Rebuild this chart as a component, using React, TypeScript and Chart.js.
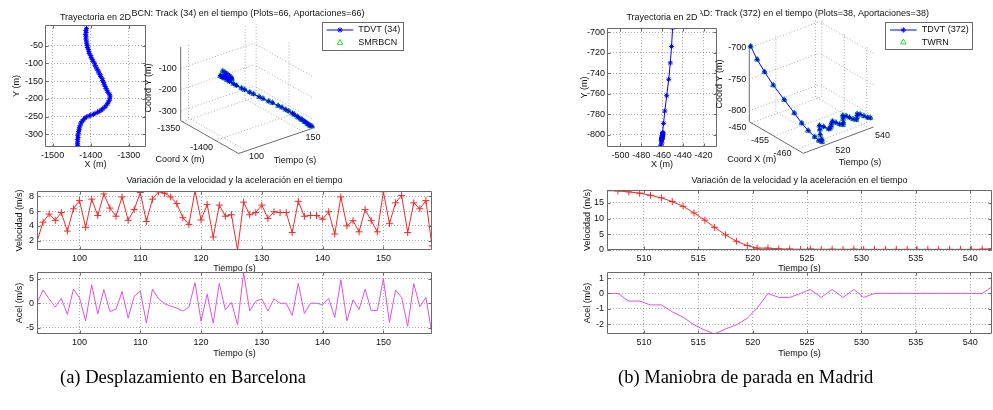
import React, { useEffect, useRef } from "react";
import { Chart, registerables } from "chart.js";

Chart.register(...registerables);

const FONT = '"Liberation Sans", Arial, Helvetica, sans-serif';
const FS = 9;
const TXT = "#111111";
const AXIS = "#6a6a6a";
const GRID = "rgba(0,0,0,0.33)";
const BLUE = "#0000ff";
const GREEN = "#22dd22";
const RED = "#f22a2a";
const MAGENTA = "#e050e0";

// ---------------- (a) Barcelona ----------------
const TIME_A = [93, 94, 95, 96, 97, 98, 99, 100, 101, 102, 103, 104, 105, 106, 107, 108, 109, 110, 111, 112, 113, 114, 115, 116, 117, 118, 119, 120, 121, 122, 123, 124, 125, 126, 127, 128, 129, 130, 131, 132, 133, 134, 135, 136, 137, 138, 139, 140, 141, 142, 143, 144, 145, 146, 147, 148, 149, 150, 151, 152, 153, 154, 155, 156, 157, 158];
const VEL_A = [1.9, 4.5, 5.6, 4.75, 5.8, 3.3, 6.3, 7.4, 3.8, 7.6, 5.4, 8.3, 6.4, 5.3, 7.9, 4.75, 6.2, 8.5, 4.6, 7.6, 8.6, 8.4, 7.9, 7.0, 5.1, 4.2, 8.7, 4.8, 6.9, 2.5, 6.8, 5.3, 5.5, 0.75, 7.2, 5.5, 5.8, 6.8, 5.0, 5.9, 5.8, 5.8, 3.1, 7.3, 5.3, 5.4, 5.4, 4.9, 5.9, 2.9, 7.9, 4.0, 4.7, 3.2, 6.2, 4.7, 3.2, 8.6, 4.3, 7.1, 8.1, 3.1, 7.1, 6.3, 7.4, 1.3];
const ACEL_A = [0, 2.7, 0.9, -0.8, 1.0, -2.3, 2.9, 1.1, -3.6, 3.8, -2.2, 2.8, -1.7, -1.2, 2.4, -3.0, 1.4, 2.5, -4.1, 2.9, 0.9, -0.1, -0.6, -1.0, -1.6, -0.8, 4.2, -3.7, 1.9, -4.1, 4.1, -1.4, 0.2, -4.4, 6.3, -1.6, 0.4, 0.9, -1.6, 0.9, 0, 0, -2.5, 4.1, -2.1, 0, 0, -0.3, 1.0, -2.9, 4.8, -3.6, 0.7, -1.3, 2.9, -1.5, -1.5, 5.0, -3.9, 2.7, 1.2, -4.7, 4.0, -0.7, 1.2, -6.3];
const POS_X_A = [-1411, -1413, -1412, -1414, -1412, -1413, -1411, -1411, -1409, -1409, -1406, -1405, -1404, -1400, -1399, -1396, -1394, -1390, -1389, -1386, -1384, -1380, -1379, -1375, -1374, -1370, -1369, -1366, -1365, -1362, -1360, -1357, -1355, -1351, -1349, -1350, -1351, -1354, -1356, -1360, -1363, -1369, -1372, -1378, -1382, -1389, -1393, -1400, -1404, -1411, -1415, -1419, -1422, -1426, -1427, -1430, -1430, -1432, -1432, -1434, -1433, -1435, -1434, -1435, -1434, -1435];
const POS_Y_A = [-1, -7, -13, -19, -25, -31, -37, -43, -49, -55, -60, -66, -72, -78, -83, -89, -94, -99, -105, -110, -116, -121, -127, -132, -137, -143, -148, -154, -160, -165, -171, -176, -182, -187, -192, -198, -204, -209, -214, -219, -224, -228, -232, -235, -238, -241, -244, -246, -248, -251, -254, -259, -263, -268, -274, -280, -286, -292, -297, -303, -309, -315, -321, -327, -331, -335];
const TRAJ_X_TICKS_A = [-1500, -1400, -1300];
const TRAJ_Y_TICKS_A = [-300, -250, -200, -150, -100, -50];
const TIME_TICKS_A = [100, 110, 120, 130, 140, 150];
const VEL_TICKS_A = [2, 4, 6, 8];
const ACEL_TICKS_A = [-5, 0, 5];
const T3D_TICKS_A = [100, 150];
const CX3D_TICKS_A = [-1400, -1350];
const CY3D_TICKS_A = [-300, -200, -100];
const LEGEND_A = ["TDVT (34)", "SMRBCN"];

// ---------------- (b) Madrid ----------------
const TIME_B = [506.6, 507.6, 508.6, 509.6, 510.6, 511.6, 512.6, 513.6, 514.6, 515.6, 516.5, 517.5, 518.5, 519.5, 520.4, 521.4, 522.4, 523.4, 524.4, 525.3, 526.3, 527.3, 528.3, 529.3, 530.2, 531.2, 532.2, 533.2, 534.2, 535.1, 536.1, 537.1, 538.1, 539.1, 540.1, 541.1, 542.0];
const VEL_B = [18.9, 18.8, 18.5, 18.1, 17.4, 16.6, 15.4, 13.9, 11.8, 9.5, 7.2, 4.8, 2.8, 1.4, 0.6, 0.6, 0.35, 0.3, 0.2, 0.3, 0.2, 0.25, 0.2, 0.25, 0.2, 0.2, 0.2, 0.2, 0.2, 0.2, 0.2, 0.2, 0.2, 0.2, 0.2, 0.25, 0.4];
const ACEL_B = [0, 0, -0.5, -0.5, -0.75, -0.75, -1.2, -1.55, -2.05, -2.4, -2.65, -2.32, -2.05, -1.62, -0.97, 0, -0.26, -0.26, 0, 0.26, -0.26, 0.26, -0.26, 0.26, -0.26, 0, 0, 0, 0, 0, 0, 0, 0, 0, 0, 0, 0.43];
const POS_X_B = [-449.8, -450.8, -452.0, -453.5, -455.5, -457.3, -458.5, -459.5, -460.5, -461.0, -461.3, -460.8, -460.0, -459.5, -459.0, -459.5, -460.2, -460.0, -459.8, -459.5, -459.3, -459.6, -460.0, -460.3, -460.0, -459.5, -459.0, -459.3, -459.6, -460.0, -460.3, -460.0, -459.6, -459.8, -460.2, -460.6, -460.8];
const POS_Y_B = [-696, -714, -730, -746, -762, -777, -789, -798, -805, -810, -812, -811, -808, -803, -800, -801, -803, -804, -803, -801, -799, -801, -803, -804, -803, -800, -798, -799, -801, -803, -804, -802, -800, -801, -803, -805, -806];
const TRAJ_X_TICKS_B = [-500, -480, -460, -440, -420];
const TRAJ_Y_TICKS_B = [-800, -780, -760, -740, -720, -700];
const TIME_TICKS_B = [510, 515, 520, 525, 530, 535, 540];
const VEL_TICKS_B = [0, 5, 10, 15];
const ACEL_TICKS_B = [-2, -1, 0, 1];
const T3D_TICKS_B = [520, 540];
const CX3D_TICKS_B = [-460, -455, -450];
const CY3D_TICKS_B = [-800, -750, -700];
const LEGEND_B = ["TDVT (372)", "TWRN"];

// ---------------- helpers ----------------
const boxPlugin = {
  id: "matlabBox",
  afterDatasetsDraw(chart: any) {
    const { ctx, chartArea: a, scales } = chart;
    const L = Math.round(a.left) + 0.5;
    const T = Math.round(a.top) + 0.5;
    const R = Math.round(a.right) - 0.5;
    const B = Math.round(a.bottom) - 0.5;
    const tl = 3;
    ctx.save();
    ctx.strokeStyle = AXIS;
    ctx.lineWidth = 1;
    ctx.setLineDash([]);
    ctx.beginPath();
    ctx.rect(L, T, R - L, B - T);
    for (const t of scales.x.ticks) {
      const px = Math.round(scales.x.getPixelForValue(t.value)) + 0.5;
      ctx.moveTo(px, B); ctx.lineTo(px, B - tl);
      ctx.moveTo(px, T); ctx.lineTo(px, T + tl);
    }
    for (const t of scales.y.ticks) {
      const py = Math.round(scales.y.getPixelForValue(t.value)) + 0.5;
      ctx.moveTo(L, py); ctx.lineTo(L + tl, py);
      ctx.moveTo(R, py); ctx.lineTo(R - tl, py);
    }
    ctx.stroke();
    ctx.restore();
  },
};

type Margins = { l: number; t: number; r: number; b: number };
interface PlotCfg {
  datasets: any[];
  xMin: number; xMax: number; xTicks: number[]; xTitle: string; xTitlePad: number;
  yMin: number; yMax: number; yTicks: number[]; yTitle: string; yTitlePad: number;
  m: Margins;
  yTickPad?: number;
  title?: { text: string; padTop: number };
}

function makePlot(canvas: HTMLCanvasElement, c: PlotCfg) {
  const font = { family: FONT, size: FS, lineHeight: 1.2 };
  return new Chart(canvas, {
    type: "scatter",
    data: { datasets: c.datasets },
    options: {
      responsive: false,
      animation: false,
      events: [],
      layout: { autoPadding: false, padding: { left: 0, top: c.title ? 0 : c.m.t, right: c.m.r, bottom: 0 } },
      plugins: {
        legend: { display: false },
        tooltip: { enabled: false },
        title: c.title
          ? {
              display: true, text: c.title.text, fullSize: false, color: TXT,
              font: { ...font, weight: "normal" },
              padding: { top: c.title.padTop, bottom: c.m.t - 10.8 - c.title.padTop },
            }
          : { display: false },
      },
      scales: {
        x: {
          type: "linear", position: "bottom", min: c.xMin, max: c.xMax,
          afterBuildTicks: (s: any) => { s.ticks = c.xTicks.map((v) => ({ value: v })); },
          afterFit: (s: any) => { s.height = c.m.b; },
          grid: { color: GRID, lineWidth: 1, drawTicks: false },
          border: { display: false, dash: [1, 2] },
          ticks: { color: TXT, font, padding: 3, maxRotation: 0, autoSkip: false, callback: (v: any) => String(v) },
          title: { display: true, text: c.xTitle, color: TXT, font, padding: { top: 0, bottom: c.xTitlePad } },
        },
        y: {
          type: "linear", position: "left", min: c.yMin, max: c.yMax,
          afterBuildTicks: (s: any) => { s.ticks = c.yTicks.map((v) => ({ value: v })); },
          afterFit: (s: any) => { s.width = c.m.l; },
          grid: { color: GRID, lineWidth: 1, drawTicks: false },
          border: { display: false, dash: [1, 2] },
          ticks: { color: TXT, font, padding: c.yTickPad ?? 3, autoSkip: false, callback: (v: any) => String(v) },
          title: { display: true, text: c.yTitle, color: TXT, font, padding: { top: c.yTitlePad, bottom: 0 } },
        },
      },
    } as any,
    plugins: [boxPlugin],
  });
}

function trajSet(xs: number[], ys: number[]) {
  return {
    data: xs.map((x, i) => ({ x, y: ys[i] })),
    showLine: true, borderColor: BLUE, borderWidth: 1, backgroundColor: "transparent",
    pointStyle: "star", pointRadius: 2.5, pointBorderColor: BLUE, pointBorderWidth: 1,
  };
}
function velSet(ts: number[], vs: number[]) {
  return {
    data: ts.map((x, i) => ({ x, y: vs[i] })),
    showLine: true, borderColor: RED, borderWidth: 1, backgroundColor: "transparent",
    pointStyle: "cross", pointRadius: 3.5, pointBorderColor: RED, pointBorderWidth: 1,
  };
}
function acelSet(ts: number[], as: number[]) {
  return {
    data: ts.map((x, i) => ({ x, y: as[i] })),
    showLine: true, borderColor: MAGENTA, borderWidth: 1, backgroundColor: "transparent", pointRadius: 0,
  };
}

// ---------------- 3D ----------------
interface Cfg3D {
  ox: number; oy: number;
  F: number[]; L: number[]; R: number[]; H: number;
  tMin: number; tMax: number; xMin: number; xMax: number; zMin: number; zMax: number;
  tTicks: number[]; xTicks: number[]; zTicks: number[];
  title: string; titlePos: number[];
  tLabelOff: number[]; xLabelOff: number[]; zLabelGap: number;
  xTitle: [string, number, number]; tTitle: [string, number, number]; zTitle: [string, number, number];
  legend: { box: number[]; lineX: number[]; textX: number; rows: number[]; labels: string[] };
}

function project(c: Cfg3D, t: number, x: number, z: number) {
  const tn = (t - c.tMin) / (c.tMax - c.tMin);
  const xn = (x - c.xMin) / (c.xMax - c.xMin);
  const zn = (z - c.zMin) / (c.zMax - c.zMin);
  return {
    x: c.F[0] + tn * (c.R[0] - c.F[0]) + xn * (c.L[0] - c.F[0]) - c.ox,
    y: c.F[1] + tn * (c.R[1] - c.F[1]) + xn * (c.L[1] - c.F[1]) - zn * c.H - c.oy,
  };
}

function drawStar(ctx: CanvasRenderingContext2D, x: number, y: number, r: number) {
  for (let k = 0; k < 4; k++) {
    const a = (k * Math.PI) / 4;
    ctx.moveTo(x - r * Math.cos(a), y - r * Math.sin(a));
    ctx.lineTo(x + r * Math.cos(a), y + r * Math.sin(a));
  }
}
function drawTri(ctx: CanvasRenderingContext2D, x: number, y: number, r: number) {
  ctx.moveTo(x, y - r);
  ctx.lineTo(x + r * 0.866, y + r * 0.5);
  ctx.lineTo(x - r * 0.866, y + r * 0.5);
  ctx.closePath();
}

function plugin3D(c: Cfg3D) {
  return {
    id: "box3d",
    beforeDatasetsDraw(chart: any) {
      const { ctx, scales } = chart;
      const P = (p: number[]) => {
        const q = project(c, p[0], p[1], p[2]);
        return { x: scales.x.getPixelForValue(q.x), y: scales.y.getPixelForValue(q.y) };
      };
      const seg = (a: number[], b: number[]) => {
        const p = P(a), q = P(b);
        ctx.moveTo(p.x, p.y); ctx.lineTo(q.x, q.y);
      };
      ctx.save();
      ctx.lineWidth = 1;
      ctx.strokeStyle = GRID;
      ctx.setLineDash([1, 2]);
      ctx.beginPath();
      for (const t of c.tTicks) {
        seg([t, c.xMax, c.zMin], [t, c.xMax, c.zMax]);
        seg([t, c.xMin, c.zMin], [t, c.xMax, c.zMin]);
      }
      for (const x of c.xTicks) {
        seg([c.tMax, x, c.zMin], [c.tMax, x, c.zMax]);
        seg([c.tMin, x, c.zMin], [c.tMax, x, c.zMin]);
      }
      for (const z of c.zTicks) {
        seg([c.tMin, c.xMax, z], [c.tMax, c.xMax, z]);
        seg([c.tMax, c.xMin, z], [c.tMax, c.xMax, z]);
      }
      ctx.stroke();
      ctx.setLineDash([]);
      ctx.strokeStyle = AXIS;
      ctx.beginPath();
      seg([c.tMin, c.xMax, c.zMin], [c.tMin, c.xMax, c.zMax]);
      seg([c.tMin, c.xMin, c.zMin], [c.tMin, c.xMax, c.zMin]);
      seg([c.tMin, c.xMin, c.zMin], [c.tMax, c.xMin, c.zMin]);
      ctx.stroke();

      ctx.fillStyle = TXT;
      ctx.font = `${FS}px ${FONT}`;
      ctx.textBaseline = "middle";
      ctx.textAlign = "right";
      for (const z of c.zTicks) {
        const p = P([c.tMin, c.xMax, z]);
        ctx.fillText(String(z), p.x - c.zLabelGap, p.y);
      }
      ctx.textAlign = "center";
      for (const x of c.xTicks) {
        const p = P([c.tMin, x, c.zMin]);
        ctx.fillText(String(x), p.x + c.xLabelOff[0], p.y + c.xLabelOff[1]);
      }
      for (const t of c.tTicks) {
        const p = P([t, c.xMin, c.zMin]);
        ctx.fillText(String(t), p.x + c.tLabelOff[0], p.y + c.tLabelOff[1]);
      }
      ctx.fillText(c.title, c.titlePos[0] - c.ox, c.titlePos[1] - c.oy);
      ctx.fillText(c.xTitle[0], c.xTitle[1] - c.ox, c.xTitle[2] - c.oy);
      ctx.fillText(c.tTitle[0], c.tTitle[1] - c.ox, c.tTitle[2] - c.oy);
      ctx.save();
      ctx.translate(c.zTitle[1] - c.ox, c.zTitle[2] - c.oy);
      ctx.rotate(-Math.PI / 2);
      ctx.fillText(c.zTitle[0], 0, 0);
      ctx.restore();
      ctx.restore();
    },
    afterDatasetsDraw(chart: any) {
      const { ctx } = chart;
      const g = c.legend;
      const ox = c.ox, oy = c.oy;
      ctx.save();
      ctx.fillStyle = "#ffffff";
      ctx.strokeStyle = AXIS;
      ctx.lineWidth = 1;
      const bx = Math.round(g.box[0] - ox) + 0.5, by = Math.round(g.box[1] - oy) + 0.5;
      const bw = Math.round(g.box[2] - g.box[0]), bh = Math.round(g.box[3] - g.box[1]);
      ctx.fillRect(bx, by, bw, bh);
      ctx.strokeRect(bx, by, bw, bh);
      const y1 = g.rows[0] - oy, y2 = g.rows[1] - oy;
      const mx = (g.lineX[0] + g.lineX[1]) / 2 - ox;
      ctx.strokeStyle = BLUE;
      ctx.beginPath();
      ctx.moveTo(g.lineX[0] - ox, y1); ctx.lineTo(g.lineX[1] - ox, y1);
      drawStar(ctx, mx, y1, 2.6);
      ctx.stroke();
      ctx.strokeStyle = GREEN;
      ctx.beginPath();
      drawTri(ctx, mx, y2, 3.2);
      ctx.stroke();
      ctx.fillStyle = TXT;
      ctx.font = `${FS}px ${FONT}`;
      ctx.textBaseline = "middle";
      ctx.textAlign = "left";
      ctx.fillText(g.labels[0], g.textX - ox, y1);
      ctx.fillText(g.labels[1], g.textX - ox, y2);
      ctx.restore();
    },
  };
}

function make3D(canvas: HTMLCanvasElement, c: Cfg3D, ts: number[], xs: number[], zs: number[]) {
  const pts = ts.map((t, i) => project(c, t, xs[i], zs[i]));
  return new Chart(canvas, {
    type: "scatter",
    data: {
      datasets: [
        {
          data: pts, showLine: true, borderColor: BLUE, borderWidth: 1, backgroundColor: "transparent",
          pointStyle: "star", pointRadius: 2.4, pointBorderColor: BLUE, pointBorderWidth: 1,
        },
        {
          data: pts, showLine: false, pointStyle: "triangle", pointRadius: 3.2,
          pointBorderColor: GREEN, pointBackgroundColor: "transparent", pointBorderWidth: 1,
        },
      ],
    },
    options: {
      responsive: false,
      animation: false,
      events: [],
      layout: { autoPadding: false, padding: 0 },
      plugins: { legend: { display: false }, tooltip: { enabled: false }, title: { display: false } },
      scales: {
        x: { type: "linear", display: false, min: 0, max: canvas.width },
        y: { type: "linear", display: false, min: 0, max: canvas.height, reverse: true },
      },
    } as any,
    plugins: [plugin3D(c)],
  });
}

const CFG3D_A: Cfg3D = {
  ox: 130, oy: 0,
  F: [238.5, 153.5], L: [180.7, 120.7], R: [312, 128.5], H: 73.7,
  tMin: 93, tMax: 158, xMin: -1435, xMax: -1347, zMin: -345, zMax: 0,
  tTicks: T3D_TICKS_A, xTicks: CX3D_TICKS_A, zTicks: CY3D_TICKS_A,
  title: "BCN: Track (34) en el tiempo (Plots=66, Aportaciones=66)", titlePos: [248, 13.5],
  tLabelOff: [10, 6], xLabelOff: [-14, 7], zLabelGap: 4,
  xTitle: ["Coord X (m)", 180, 160], tTitle: ["Tiempo (s)", 295, 161], zTitle: ["Coord Y (m)", 149, 88],
  legend: { box: [322, 22, 403, 50], lineX: [326.7, 353.3], textX: 358.3, rows: [30, 42.7], labels: LEGEND_A },
};

const CFG3D_B: Cfg3D = {
  ox: 700, oy: 0,
  F: [803.3, 153.3], L: [749.3, 121.7], R: [873.5, 127], H: 76.9,
  tMin: 506.6, tMax: 542, xMin: -461.5, xMax: -449.5, zMin: -817.5, zMax: -695,
  tTicks: T3D_TICKS_B, xTicks: CX3D_TICKS_B, zTicks: CY3D_TICKS_B,
  title: "MAD: Track (372) en el tiempo (Plots=38, Aportaciones=38)", titlePos: [809.5, 13.5],
  tLabelOff: [13, 7.5], xLabelOff: [-14, 4], zLabelGap: 3,
  xTitle: ["Coord X (m)", 751.7, 160], tTitle: ["Tiempo (s)", 860, 162.3], zTitle: ["Coord Y (m)", 719.3, 84],
  legend: { box: [885, 22, 972, 49], lineX: [890, 916.7], textX: 921.7, rows: [30, 42.3], labels: LEGEND_B },
};

type Box = { x: number; y: number; w: number; h: number };

function ChartBox({ box, build }: { box: Box; build: (c: HTMLCanvasElement) => Chart }) {
  const ref = useRef<HTMLCanvasElement>(null);
  useEffect(() => {
    const ch = build(ref.current as HTMLCanvasElement);
    return () => ch.destroy();
  }, []);
  return (
    <canvas
      ref={ref}
      width={box.w}
      height={box.h}
      style={{ position: "absolute", left: box.x, top: box.y, width: box.w, height: box.h, display: "block" }}
    />
  );
}

export default function App() {
  const captionStyle: React.CSSProperties = {
    position: "absolute",
    top: 366,
    fontFamily: '"Liberation Serif", "DejaVu Serif", serif',
    fontSize: 18.5,
    lineHeight: "22px",
    whiteSpace: "nowrap",
    color: "#000",
  };
  return (
    <div style={{ position: "absolute", left: 0, top: 0, width: 993, height: 410, background: "#fff", overflow: "hidden" }}>
      {/* (a) 2D trajectory */}
      <ChartBox
        box={{ x: 0, y: 0, w: 160, h: 175 }}
        build={(cv) =>
          makePlot(cv, {
            datasets: [trajSet(POS_X_A, POS_Y_A)],
            xMin: -1520, xMax: -1255, xTicks: TRAJ_X_TICKS_A, xTitle: "X (m)", xTitlePad: 4.6,
            yMin: -336, yMax: 8.5, yTicks: TRAJ_Y_TICKS_A, yTitle: "Y (m)", yTitlePad: 11.6,
            m: { l: 45, t: 25, r: 14, b: 28 }, yTickPad: 2,
            title: { text: "Trayectoria en 2D", padTop: 11.9 },
          })
        }
      />
      {/* (a) 3D */}
      <ChartBox box={{ x: 130, y: 0, w: 290, h: 175 }} build={(cv) => make3D(cv, CFG3D_A, TIME_A, POS_X_A, POS_Y_A)} />
      {/* (a) velocity */}
      <ChartBox
        box={{ x: 0, y: 172, w: 440, h: 106 }}
        build={(cv) =>
          makePlot(cv, {
            datasets: [velSet(TIME_A, VEL_A)],
            xMin: 93, xMax: 158, xTicks: TIME_TICKS_A, xTitle: "Tiempo (s)", xTitlePad: 3.6,
            yMin: 0.75, yMax: 8.7, yTicks: VEL_TICKS_A, yTitle: "Velocidad (m/s)", yTitlePad: 14.6,
            m: { l: 37, t: 19, r: 8, b: 28 },
            title: { text: "Variación de la velocidad y la aceleración en el tiempo", padTop: 3.3 },
          })
        }
      />
      {/* (a) acceleration */}
      <ChartBox
        box={{ x: 0, y: 262, w: 440, h: 100 }}
        build={(cv) =>
          makePlot(cv, {
            datasets: [acelSet(TIME_A, ACEL_A)],
            xMin: 93, xMax: 158, xTicks: TIME_TICKS_A, xTitle: "Tiempo (s)", xTitlePad: 2.6,
            yMin: -6.3, yMax: 6.4, yTicks: ACEL_TICKS_A, yTitle: "Acel (m/s)", yTitlePad: 13.9,
            m: { l: 37, t: 10, r: 8, b: 28 },
          })
        }
      />
      {/* (b) 2D trajectory */}
      <ChartBox
        box={{ x: 578, y: 0, w: 142, h: 175 }}
        build={(cv) =>
          makePlot(cv, {
            datasets: [trajSet(POS_X_B, POS_Y_B)],
            xMin: -513, xMax: -407, xTicks: TRAJ_X_TICKS_B, xTitle: "X (m)", xTitlePad: 4.6,
            yMin: -812, yMax: -696, yTicks: TRAJ_Y_TICKS_B, yTitle: "Y (m)", yTitlePad: 1.5,
            m: { l: 29, t: 28, r: 3, b: 28 }, yTickPad: 2,
            title: { text: "Trayectoria en 2D", padTop: 11.9 },
          })
        }
      />
      {/* (b) 3D */}
      <ChartBox box={{ x: 700, y: 0, w: 293, h: 175 }} build={(cv) => make3D(cv, CFG3D_B, TIME_B, POS_X_B, POS_Y_B)} />
      {/* (b) velocity */}
      <ChartBox
        box={{ x: 575, y: 172, w: 418, h: 106 }}
        build={(cv) =>
          makePlot(cv, {
            datasets: [velSet(TIME_B, VEL_B)],
            xMin: 506.6, xMax: 542, xTicks: TIME_TICKS_B, xTitle: "Tiempo (s)", xTitlePad: 3.6,
            yMin: 0, yMax: 19.1, yTicks: VEL_TICKS_B, yTitle: "Velocidad (m/s)", yTitlePad: 6.9,
            m: { l: 32, t: 18, r: 1, b: 28 },
            title: { text: "Variación de la velocidad y la aceleración en el tiempo", padTop: 3.3 },
          })
        }
      />
      {/* (b) acceleration */}
      <ChartBox
        box={{ x: 575, y: 262, w: 418, h: 100 }}
        build={(cv) =>
          makePlot(cv, {
            datasets: [acelSet(TIME_B, ACEL_B)],
            xMin: 506.6, xMax: 542, xTicks: TIME_TICKS_B, xTitle: "Tiempo (s)", xTitlePad: 2.6,
            yMin: -2.65, yMax: 1.4, yTicks: ACEL_TICKS_B, yTitle: "Acel (m/s)", yTitlePad: 6.9,
            m: { l: 32, t: 10, r: 1, b: 28 },
          })
        }
      />
      <div style={{ ...captionStyle, left: 60 }}>(a) Desplazamiento en Barcelona</div>
      <div style={{ ...captionStyle, left: 618 }}>(b) Maniobra de parada en Madrid</div>
    </div>
  );
}
